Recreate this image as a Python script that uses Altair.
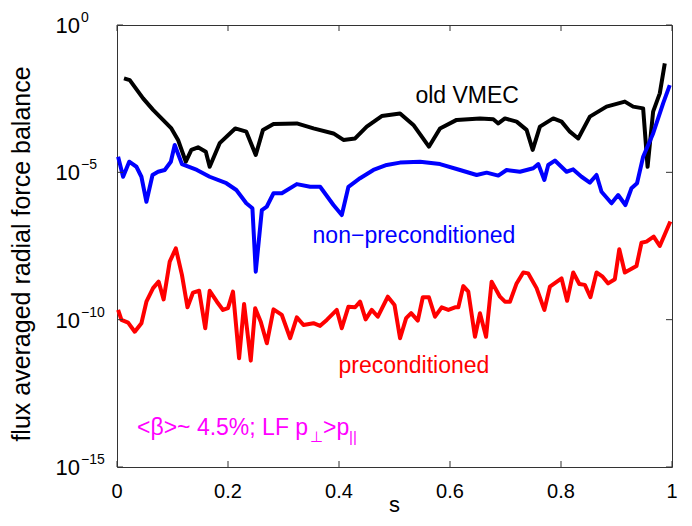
import altair as alt
import pandas as pd

# ---- data (values are log10 of the force balance) ----
old_s = [0.0126, 0.023, 0.047, 0.065, 0.098, 0.11, 0.124, 0.134, 0.146, 0.16, 0.167, 0.185,
         0.213, 0.233, 0.250, 0.263, 0.282, 0.324, 0.354, 0.390, 0.408, 0.429, 0.450, 0.477,
         0.510, 0.534, 0.562, 0.582, 0.612, 0.654, 0.678, 0.687, 0.699, 0.720, 0.738, 0.749,
         0.762, 0.786, 0.801, 0.816, 0.831, 0.852, 0.882, 0.915, 0.930, 0.948, 0.956, 0.966,
         0.978, 0.987]
old_log = [-1.81, -1.87, -2.49, -2.88, -3.51, -3.90, -4.64, -4.24, -4.15, -4.30, -4.81, -4.01,
           -3.51, -3.62, -4.41, -3.56, -3.36, -3.34, -3.51, -3.68, -3.90, -3.85, -3.45, -3.09,
           -3.00, -3.39, -4.13, -3.51, -3.22, -3.17, -3.20, -3.34, -3.17, -3.28, -3.56, -4.24,
           -3.45, -3.17, -3.28, -3.62, -3.85, -3.11, -2.77, -2.60, -2.77, -2.83, -4.81, -2.94,
           -2.32, -1.30]

nonpre_s = [0.002, 0.011, 0.022, 0.035, 0.044, 0.053, 0.064, 0.074, 0.086, 0.097, 0.104, 0.117,
            0.144, 0.167, 0.197, 0.215, 0.233, 0.244, 0.250, 0.261, 0.270, 0.282, 0.297, 0.324,
            0.348, 0.366, 0.390, 0.405, 0.417, 0.438, 0.462, 0.486, 0.510, 0.546, 0.582, 0.618,
            0.648, 0.666, 0.687, 0.702, 0.726, 0.750, 0.759, 0.770, 0.777, 0.789, 0.810, 0.822,
            0.837, 0.852, 0.864, 0.873, 0.891, 0.903, 0.916, 0.927, 0.937, 0.948, 0.966, 0.984,
            0.996]
nonpre_log = [-4.47, -5.15, -4.64, -4.81, -5.15, -6.00, -5.09, -4.98, -4.92, -4.64, -4.07, -4.72,
              -4.92, -5.15, -5.37, -5.60, -6.05, -6.22, -8.37, -6.28, -6.16, -5.71, -5.71, -5.40,
              -5.49, -5.49, -6.11, -6.45, -5.49, -5.20, -4.92, -4.75, -4.67, -4.64, -4.72, -4.92,
              -5.09, -5.01, -5.11, -4.92, -4.98, -4.86, -4.72, -5.26, -4.75, -4.60, -4.98, -4.90,
              -5.15, -5.35, -5.09, -5.66, -6.05, -5.77, -6.11, -5.54, -5.37, -4.47, -3.68, -2.66,
              -2.04]

pre_s = [0.002, 0.008, 0.020, 0.032, 0.044, 0.053, 0.065, 0.075, 0.084, 0.095, 0.106, 0.117,
         0.127, 0.137, 0.148, 0.159, 0.167, 0.180, 0.191, 0.200, 0.209, 0.220, 0.229, 0.241,
         0.249, 0.259, 0.270, 0.282, 0.297, 0.312, 0.324, 0.336, 0.354, 0.366, 0.378, 0.396,
         0.405, 0.417, 0.429, 0.438, 0.448, 0.459, 0.470, 0.488, 0.500, 0.510, 0.521, 0.530,
         0.542, 0.551, 0.562, 0.573, 0.585, 0.597, 0.609, 0.615, 0.624, 0.633, 0.645, 0.654,
         0.665, 0.675, 0.690, 0.699, 0.708, 0.720, 0.732, 0.741, 0.756, 0.770, 0.780, 0.801,
         0.811, 0.822, 0.833, 0.843, 0.853, 0.864, 0.875, 0.885, 0.897, 0.905, 0.915, 0.936,
         0.945, 0.954, 0.967, 0.978, 0.997]
pre_log = [-9.67, -10.01, -10.10, -10.41, -10.12, -9.39, -8.93, -8.71, -9.31, -8.03, -7.58, -8.48,
           -9.58, -9.08, -9.02, -10.29, -9.02, -9.39, -9.67, -9.61, -9.05, -11.31, -9.47, -11.39,
           -9.61, -10.07, -10.80, -9.65, -9.84, -10.63, -9.92, -10.18, -10.12, -10.21, -10.01, -9.67,
           -10.29, -9.56, -9.58, -9.39, -9.99, -9.67, -9.90, -9.22, -9.50, -10.63, -9.95, -9.78,
           -10.03, -9.24, -9.24, -9.90, -9.58, -9.67, -9.58, -9.58, -8.86, -9.05, -10.58, -9.78,
           -10.58, -8.71, -9.22, -9.39, -9.39, -8.77, -8.40, -8.43, -8.93, -9.67, -8.88, -8.60,
           -9.36, -8.40, -8.79, -8.82, -9.24, -8.40, -8.54, -8.77, -8.63, -7.61, -8.40, -8.18,
           -7.39, -7.35, -7.18, -7.50, -6.67]

series_names = ["old VMEC", "non-preconditioned", "preconditioned"]
series_colors = ["#000000", "#0000ff", "#ff0000"]

x_ticks = [0, 0.2, 0.4, 0.6, 0.8, 1.0]
x_labels = ["0", "0.2", "0.4", "0.6", "0.8", "1"]
y_ticks = [1e0, 1e-5, 1e-10, 1e-15]
y_exps = ["0", "\u22125", "\u221210", "\u221215"]

x_title = "s"
y_title = "flux averaged radial force balance"

# annotation texts and their anchor positions (s, log10 value)
ann_texts = ["old VMEC", "non\u2212preconditioned", "preconditioned"]
ann_s = [0.631, 0.535, 0.535]
ann_log = [-2.65, -7.40, -11.81]
ann_colors = ["#000000", "#0000ff", "#ff0000"]

beta_pieces = ["<\u03b2>~ 4.5%; LF p", "\u22a5", ">p", "||"]
beta_s, beta_log = 0.036, -13.93

# ---- build tables ----
rows = []
for name, ss, ll in zip(series_names, [old_s, nonpre_s, pre_s], [old_log, nonpre_log, pre_log]):
    for i, (s, l) in enumerate(zip(ss, ll)):
        rows.append({"series": name, "s": s, "f": 10.0 ** l, "i": i})
df = pd.DataFrame(rows)

W, H = 555, 442
xs = alt.Scale(domain=[0, 1], nice=False, zero=False)
ys = alt.Scale(type="log", domain=[1e-15, 1], nice=False)

lines = alt.Chart(df).mark_line(strokeWidth=4, strokeJoin="round").encode(
    x=alt.X("s:Q", scale=xs, axis=None),
    y=alt.Y("f:Q", scale=ys, axis=None),
    color=alt.Color("series:N", scale=alt.Scale(domain=series_names, range=series_colors),
                    legend=None),
    order="i:Q",
)

# tick marks pointing inward (x)
xt = pd.DataFrame({"t": x_ticks, "lab": x_labels})
xt_bottom = alt.Chart(xt).mark_rule(color="#333", strokeWidth=1).encode(
    x=alt.X("t:Q", scale=xs, axis=None), y=alt.value(H), y2=alt.value(H - 6))
xt_top = alt.Chart(xt).mark_rule(color="#333", strokeWidth=1).encode(
    x=alt.X("t:Q", scale=xs, axis=None), y=alt.value(0), y2=alt.value(6))
xlab = alt.Chart(xt).mark_text(align="center", baseline="alphabetic", fontSize=20,
                               color="black").encode(
    x=alt.X("t:Q", scale=xs, axis=None), y=alt.value(H + 31), text="lab:N")

yt = pd.DataFrame({"v": y_ticks, "e": y_exps})
yt_left = alt.Chart(yt).mark_rule(color="#333", strokeWidth=1).encode(
    y=alt.Y("v:Q", scale=ys, axis=None), x=alt.value(0), x2=alt.value(6))
yt_right = alt.Chart(yt).mark_rule(color="#333", strokeWidth=1).encode(
    y=alt.Y("v:Q", scale=ys, axis=None), x=alt.value(W), x2=alt.value(W - 6))

# y tick labels 10^n
ylab_base = alt.Chart(yt).mark_text(align="right", baseline="alphabetic", dy=8,
                                    fontSize=22, color="black").encode(
    y=alt.Y("v:Q", scale=ys, axis=None), x=alt.value(-37), text=alt.value("10"))
ylab_exp = alt.Chart(yt).mark_text(align="left", baseline="alphabetic", dy=-3,
                                   fontSize=14, color="black").encode(
    y=alt.Y("v:Q", scale=ys, axis=None), x=alt.value(-36), text="e:N")

# axis titles
ytitle = alt.Chart(pd.DataFrame({"t": [y_title]})).mark_text(
    angle=270, align="center", baseline="middle", fontSize=25, color="black").encode(
    x=alt.value(-95), y=alt.value(H / 2 + 8), text="t:N")
xtitle = alt.Chart(pd.DataFrame({"t": [x_title]})).mark_text(
    align="center", baseline="alphabetic", fontSize=22, color="black").encode(
    x=alt.value(W / 2), y=alt.value(H + 45), text="t:N")

layers = [lines, xt_bottom, xt_top, xlab, yt_left, yt_right, ylab_base, ylab_exp,
          ytitle, xtitle]

for txt, s, l, c in zip(ann_texts, ann_s, ann_log, ann_colors):
    d = pd.DataFrame({"s": [s], "f": [10.0 ** l], "t": [txt]})
    layers.append(alt.Chart(d).mark_text(align="center", baseline="alphabetic",
                                         fontSize=23, color=c).encode(
        x=alt.X("s:Q", scale=xs, axis=None), y=alt.Y("f:Q", scale=ys, axis=None),
        text="t:N"))

beta_dx = [0, 173, 186, 212]
beta_dy = [0, 7, 0, 7]
beta_fs = [23, 15, 23, 15]
for txt, dx, dy, fs in zip(beta_pieces, beta_dx, beta_dy, beta_fs):
    d = pd.DataFrame({"s": [beta_s], "f": [10.0 ** beta_log], "t": [txt]})
    layers.append(alt.Chart(d).mark_text(align="left", baseline="alphabetic", dx=dx, dy=dy,
                                         fontSize=fs, color="#ff00ff").encode(
        x=alt.X("s:Q", scale=xs, axis=None), y=alt.Y("f:Q", scale=ys, axis=None),
        text="t:N"))

chart = alt.layer(*layers).properties(
    width=W, height=H,
    padding={"left": 109, "top": 17, "right": 12, "bottom": 51},
    autosize=alt.AutoSizeParams(type="none"),
).configure(font="Liberation Sans").configure_view(stroke="#333", strokeWidth=1)

chart.save("out.html", embed_options={"renderer": "svg", "actions": False})
